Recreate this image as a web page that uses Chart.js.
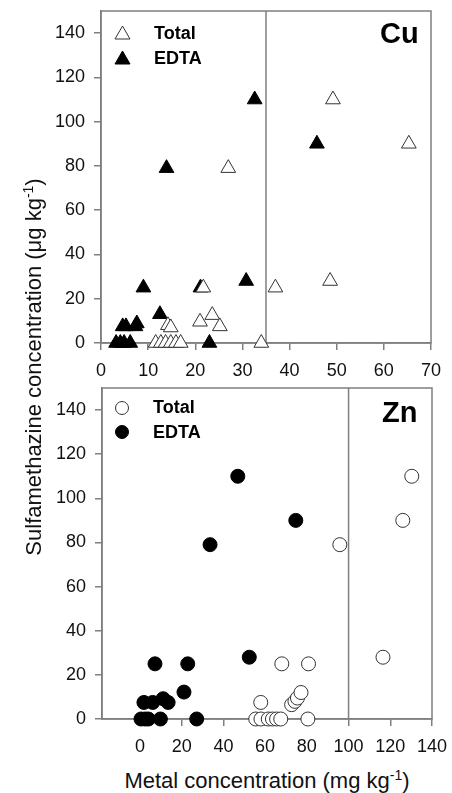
<!DOCTYPE html>
<html>
<head>
<meta charset="utf-8">
<script src="https://cdn.jsdelivr.net/npm/chart.js@4.4.1/dist/chart.umd.min.js"></script>
<style>
  body { margin: 0; background: #fff; font-family: "Liberation Sans", Arial, sans-serif; }
  #page { position: relative; width: 452px; height: 793px; overflow: hidden; }
  canvas { position: absolute; left: 0; }
  #cu { top: 0; }
  #zn { top: 380px; }
  .metal { position: absolute; font-weight: bold; font-size: 29px; line-height: 29px; color: #000; }
  .leg { position: absolute; font-weight: bold; font-size: 18px; line-height: 20px; color: #000; }
  .sym { position: absolute; }
  #ytitle { position: absolute; left: -166px; top: 356px; width: 400px; text-align: center;
            font-size: 22px; line-height: 22px; color: #111; transform: rotate(-90deg); }
  #xtitle { position: absolute; left: 67px; top: 770px; width: 400px; text-align: center;
            font-size: 22px; line-height: 22px; color: #111; }
  sup { font-size: 14px; line-height: 0; }
</style>
</head>
<body>
<div id="page">
  <canvas id="cu" width="452" height="380"></canvas>
  <canvas id="zn" width="452" height="380"></canvas>

  <svg class="sym" style="left:114px;top:25px" width="17" height="15"><polygon points="8.5,1 16,14 1,14" fill="#fff" stroke="#333" stroke-width="1"/></svg>
  <div class="leg" style="left:154px;top:23px">Total</div>
  <svg class="sym" style="left:114px;top:50px" width="17" height="15"><polygon points="8.5,1 16,14 1,14" fill="#000" stroke="#000" stroke-width="1"/></svg>
  <div class="leg" style="left:154px;top:48px">EDTA</div>
  <div class="metal" style="left:380px;top:19px">Cu</div>

  <svg class="sym" style="left:114px;top:400px" width="16" height="16"><circle cx="8" cy="8" r="6.5" fill="#fff" stroke="#333" stroke-width="1"/></svg>
  <div class="leg" style="left:153px;top:397px">Total</div>
  <svg class="sym" style="left:114px;top:424px" width="16" height="16"><circle cx="8" cy="8" r="6.5" fill="#000" stroke="#000" stroke-width="1"/></svg>
  <div class="leg" style="left:153px;top:422px">EDTA</div>
  <div class="metal" style="left:382px;top:398px">Zn</div>

  <div id="ytitle">Sulfamethazine concentration (μg kg<sup>-1</sup>)</div>
  <div id="xtitle">Metal concentration (mg kg<sup>-1</sup>)</div>
</div>
<script>
// tick labels
const yTicks = [0, 20, 40, 60, 80, 100, 120, 140];
const cuXTicks = [0, 10, 20, 30, 40, 50, 60, 70];
const znXTicks = [0, 20, 40, 60, 80, 100, 120, 140];

// Cu panel
const cuTotalX = [11.6, 12.7, 13.7, 14.8, 15.9, 16.9, 14.2, 14.8, 21.0, 23.6, 25.2, 34.0, 21.7, 37.0, 48.6, 27.0, 49.2, 65.3];
const cuTotalY = [0, 0, 0, 0, 0, 0, 8, 7, 9.6, 12.6, 7.5, 0, 25, 25, 28, 79, 110, 90];
const cuEdtaX = [3.2, 4.1, 4.9, 6.2, 4.6, 5.3, 7.3, 7.6, 9.0, 12.5, 13.9, 21.1, 23.0, 30.8, 32.6, 45.8];
const cuEdtaY = [0, 0, 0, 0, 7.5, 7.5, 7.5, 8.8, 25, 13, 79, 25, 0, 28, 110, 90];
const cuLimit = 35;

// Zn panel
const znTotalX = [55.5, 58, 61.5, 63.5, 65.5, 67.5, 80.5, 57.9, 72.7, 74.3, 75.5, 77.2, 68, 80.8, 116.5, 95.8, 130.3, 126];
const znTotalY = [0, 0, 0, 0, 0, 0, 0, 7.5, 6.5, 8, 9.5, 12, 25, 25, 28, 79, 110, 90];
const znEdtaX = [0.5, 2.5, 4, 9.8, 27.2, 1.9, 6.1, 11.1, 13.5, 21.1, 7.2, 22.9, 52.4, 33.6, 46.9, 74.7];
const znEdtaY = [0, 0, 0, 0, 0, 7.5, 7.5, 9.2, 7.5, 12.2, 25, 25, 28, 79, 110, 90];
const znLimit = 100;

Chart.defaults.font.family = '"Liberation Sans", Arial, sans-serif';

function pts(xs, ys) {
    return xs.map((x, i) => ({ x: x, y: ys[i] }));
}

// box round the plot and the limit line
const framePlugin = {
    id: 'frame',
    beforeDatasetsDraw(chart, args, opts) {
        const ctx = chart.ctx;
        const a = chart.chartArea;
        ctx.save();
        ctx.strokeStyle = '#7f7f7f';
        ctx.lineWidth = 1.5;
        ctx.strokeRect(a.left, a.top, a.right - a.left, a.bottom - a.top);
        const px = chart.scales.x.getPixelForValue(opts.limit);
        ctx.beginPath();
        ctx.moveTo(px, a.top);
        ctx.lineTo(px, a.bottom);
        ctx.stroke();
        ctx.restore();
    }
};

function axisLook(tickList) {
    return {
        afterBuildTicks: axis => { axis.ticks = tickList.map(v => ({ value: v })); },
        grid: { drawOnChartArea: false, drawTicks: true, tickLength: 7, color: '#7f7f7f', lineWidth: 1.5 },
        border: { display: true, color: '#7f7f7f', width: 1.5 },
        ticks: { color: '#111', font: { size: 18 }, padding: 10, maxRotation: 0, autoSkip: false }
    };
}

function drawPanel(id, xMin, xMax, xTicks, limit, style, total, edta, pad) {
    const x = axisLook(xTicks);
    x.type = 'linear';
    x.min = xMin;
    x.max = xMax;
    x.afterFit = s => { s.height = 37; s.paddingLeft = 0; s.paddingRight = 0; };
    const y = axisLook(yTicks);
    y.min = 0;
    y.max = 150;
    y.ticks.padding = 9;
    y.afterFit = s => { s.width = 101 + pad.shift; s.paddingTop = 0; s.paddingBottom = 0; };
    return new Chart(document.getElementById(id), {
        type: 'scatter',
        plugins: [framePlugin],
        data: {
            datasets: [{
                label: 'Total',
                data: total,
                pointStyle: style,
                pointRadius: style === 'triangle' ? 8.5 : 7,
                backgroundColor: '#fff',
                borderColor: '#333',
                borderWidth: 1,
                clip: false
            }, {
                label: 'EDTA',
                data: edta,
                pointStyle: style,
                pointRadius: style === 'triangle' ? 8.5 : 7,
                backgroundColor: '#000',
                borderColor: '#000',
                borderWidth: 1,
                clip: false
            }]
        },
        options: {
            responsive: false,
            animation: false,
            layout: { padding: { top: pad.top, right: pad.right, bottom: pad.bottom, left: 0 } },
            scales: { x: x, y: y },
            plugins: {
                legend: { display: false },
                tooltip: { enabled: false },
                frame: { limit: limit }
            }
        }
    });
}

drawPanel('cu', 0, 70, cuXTicks, cuLimit, 'triangle',
    pts(cuTotalX, cuTotalY), pts(cuEdtaX, cuEdtaY), { top: 11, right: 21, bottom: 0, shift: 0 });
drawPanel('zn', -18.2, 140, znXTicks, znLimit, 'circle',
    pts(znTotalX, znTotalY), pts(znEdtaX, znEdtaY), { top: 7, right: 20, bottom: 4, shift: 1 });
</script>
</body>
</html>
